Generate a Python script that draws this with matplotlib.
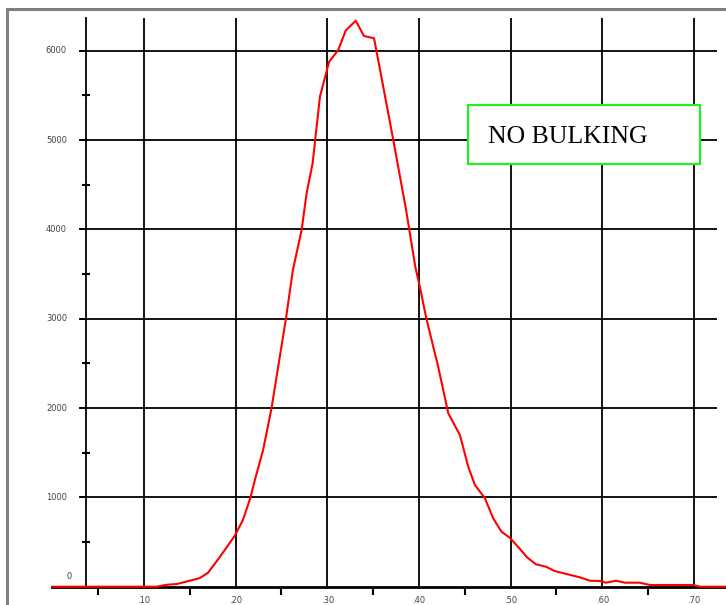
import matplotlib
matplotlib.use("Agg")
import matplotlib.pyplot as plt
import matplotlib.transforms as mtransforms
from matplotlib.lines import Line2D
from matplotlib.patches import Rectangle

# ---- data ----
x_vals = [0.000, 0.114, 0.125, 0.136, 0.150, 0.161, 0.170, 0.183, 0.199, 0.208,
          0.216, 0.221, 0.230, 0.239, 0.255, 0.2625, 0.272, 0.2775, 0.284, 0.292,
          0.302, 0.312, 0.320, 0.331, 0.340, 0.351, 0.359, 0.372, 0.386, 0.396,
          0.401, 0.408, 0.421, 0.432, 0.4447, 0.4538, 0.461, 0.472, 0.481, 0.490,
          0.499, 0.508, 0.518, 0.5276, 0.5385, 0.548, 0.561, 0.5756, 0.5865, 0.5975,
          0.604, 0.615, 0.6245, 0.641, 0.652, 0.699, 0.7065, 0.735]
y_vals = [0, 0, 22, 30, 67, 97, 157, 336, 569, 748,
          990, 1194, 1530, 1988, 3007, 3545, 3993, 4407, 4740, 5485,
          5877, 6008, 6224, 6336, 6165, 6139, 5709, 5001, 4217, 3582,
          3358, 3005, 2463, 1941, 1698, 1343, 1140, 990, 766, 616,
          549, 448, 329, 251, 224, 176, 142, 105, 67, 64,
          45, 67, 45, 45, 19, 19, 0, 0]

x_major = [0.10, 0.20, 0.30, 0.40, 0.50, 0.60, 0.70]
x_labels = [".10", ".20", ".30", ".40", ".50", ".60", ".70"]
x_minor = [0.05, 0.15, 0.25, 0.35, 0.45, 0.55, 0.65]
y_major = [0, 1000, 2000, 3000, 4000, 5000, 6000]
y_labels = ["0", "1000", "2000", "3000", "4000", "5000", "6000"]
y_minor = [500, 1500, 2500, 3500, 4500, 5500]
annotation = "NO BULKING"

# ---- figure ----
W, H = 726, 605
fig = plt.figure(figsize=(W / 100, H / 100), dpi=100)
fig.patch.set_facecolor("white")

px0, px1 = 52.3, 726.0
py_bot, py_top = 586.7, 18.0
ax = fig.add_axes([px0 / W, (H - py_bot) / H, (px1 - px0) / W, (py_bot - py_top) / H])
ax.set_xlim(0.0, 0.735)
ax.set_ylim(0, 6366)
ax.set_facecolor("white")

yaxis_x = 0.0368
grid_x0, grid_x1 = 0.0295, 0.7254

for s in ["top", "right"]:
    ax.spines[s].set_visible(False)
ax.spines["left"].set_position(("data", yaxis_x))
ax.spines["left"].set_linewidth(1.3)
ax.spines["bottom"].set_linewidth(2.0)
ax.spines["bottom"].set_zorder(2.5)

# gridlines
ax.vlines(x_major, 0, 6366, colors="black", linewidth=1.3, zorder=1)
ax.hlines(y_major[1:], grid_x0, grid_x1, colors="black", linewidth=1.3, zorder=1)

# x ticks
ax.set_xticks(x_major)
ax.set_xticklabels(x_labels, fontsize=6, color="#444444")
ax.set_xticks(x_minor, minor=True)
ax.tick_params(axis="x", which="major", length=0, pad=7)
ax.tick_params(axis="x", which="minor", direction="out", length=6, width=1.5, color="black")

# y ticks
ax.set_yticks(y_major)
ax.set_yticklabels([])
ax.set_yticks(y_minor, minor=True)
ax.tick_params(axis="y", which="major", direction="out", length=4.5, width=1.3)
ax.tick_params(axis="y", which="minor", direction="inout", length=5.5, width=1.5)

label_x = 0.016
for v, lab in zip(y_major, y_labels):
    if v == 0:
        off = mtransforms.ScaledTranslation(4.5 / 100, 10.5 / 100, fig.dpi_scale_trans)
        ax.text(label_x, v, lab, transform=ax.transData + off, ha="right", va="center",
                fontsize=6, color="#444444")
    else:
        ax.text(label_x, v, lab, ha="right", va="center", fontsize=6, color="#444444")

# curve
ax.plot(x_vals, y_vals, color="#ff0000", linewidth=1.5, zorder=3, clip_on=False)

# annotation box
box = Rectangle((467.7 / W, 1 - 164.3 / H), (700 - 467.7) / W, (164.3 - 105) / H,
                transform=fig.transFigure, facecolor="white", edgecolor="#22ee22",
                linewidth=1.6, zorder=5)
fig.add_artist(box)
fig.text(488 / W, 1 - 143.3 / H, annotation, ha="left", va="baseline",
         fontsize=18.5, family="Liberation Serif", color="black", zorder=6)

# gray frame
fig.add_artist(Line2D([7 / W, 7 / W], [0, 1 - 9 / H], transform=fig.transFigure,
                      color="#808080", linewidth=2.2))
fig.add_artist(Line2D([7 / W, 1], [1 - 9 / H, 1 - 9 / H], transform=fig.transFigure,
                      color="#808080", linewidth=2.2))

fig.savefig("out.png", dpi=100, facecolor="white")
